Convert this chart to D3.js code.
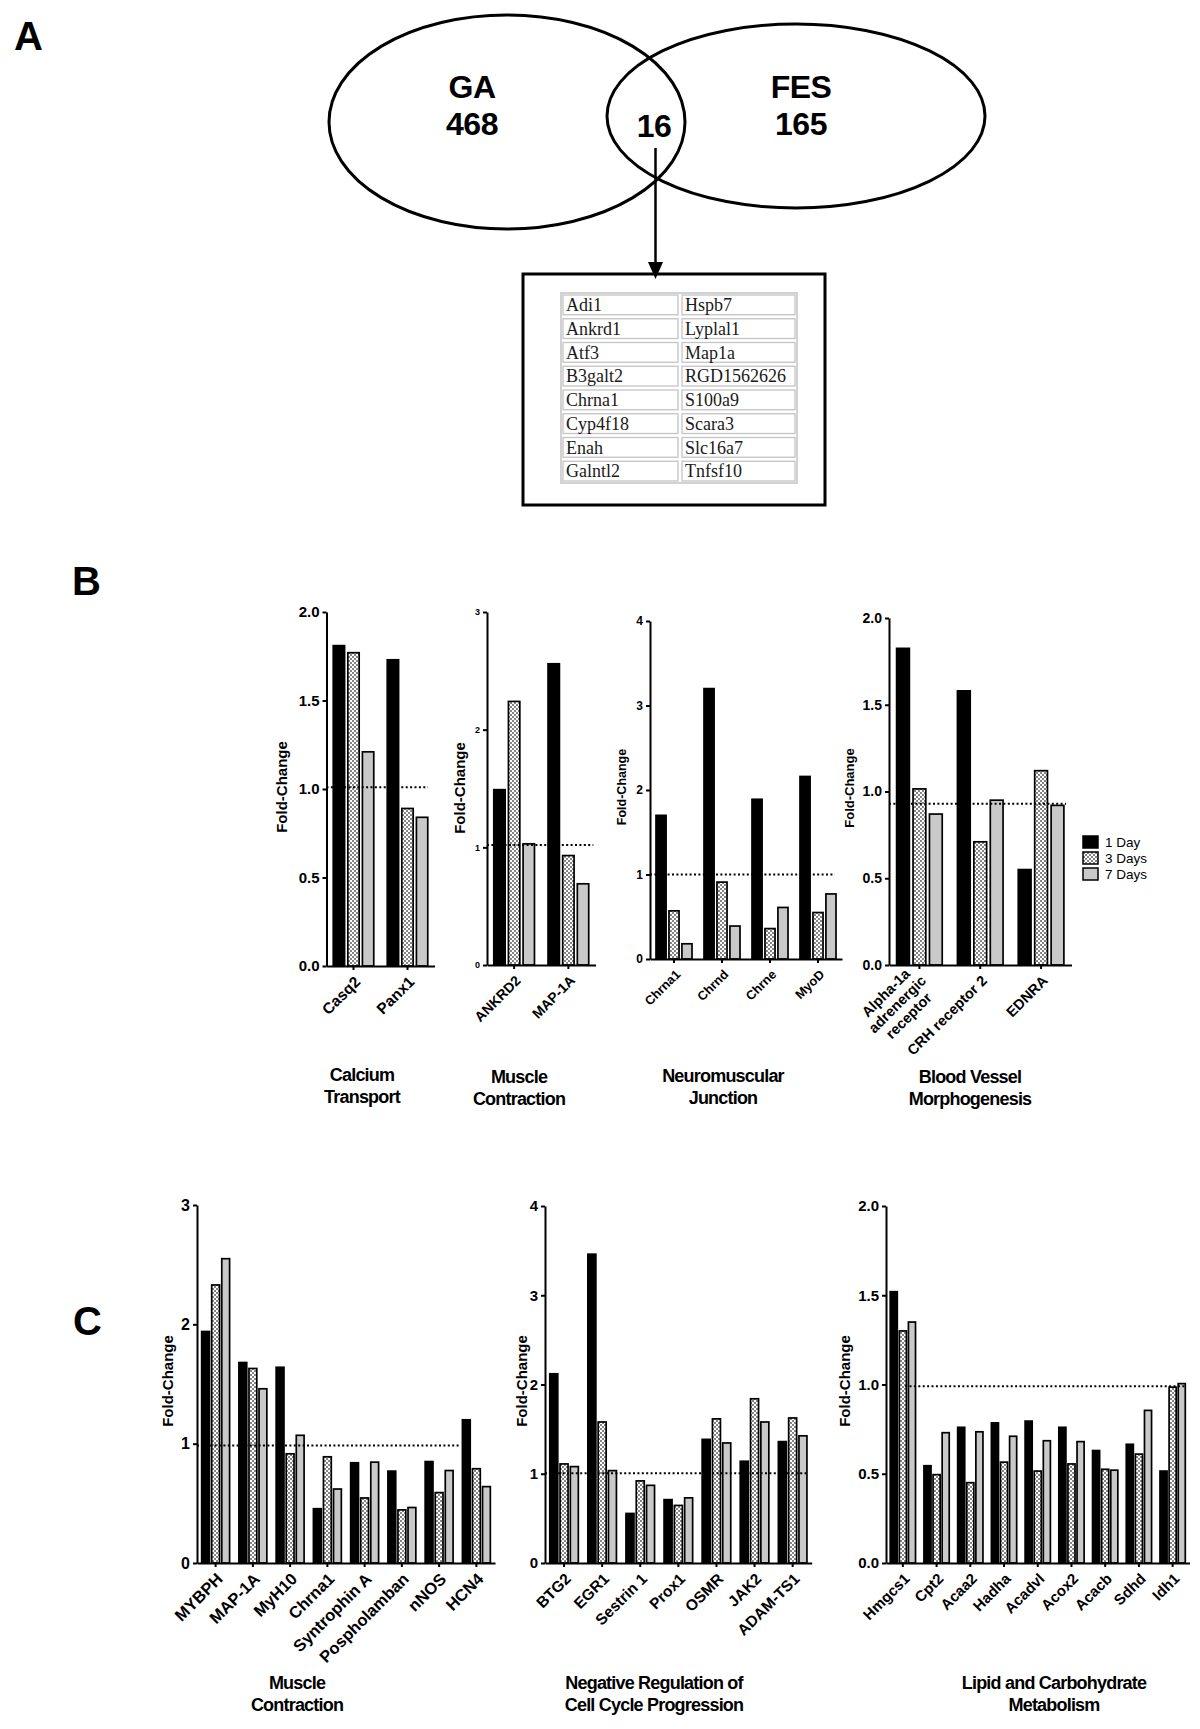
<!DOCTYPE html>
<html>
<head>
<meta charset="utf-8">
<title>Shared genes and fold-change bars</title>
<script src="https://d3js.org/d3.v7.min.js"></script>
<style>
  body { margin: 0; background: #fff; }
  text { font-family: "Liberation Sans", Arial, sans-serif; }
</style>
</head>
<body>
<script>
// ---- data ----
var vennNames = ["GA", "FES"];
var vennOnly = [468, 165];
var vennShared = 16;
var sharedLeft = ["Adi1", "Ankrd1", "Atf3", "B3galt2", "Chrna1", "Cyp4f18", "Enah", "Galntl2"];
var sharedRight = ["Hspb7", "Lyplal1", "Map1a", "RGD1562626", "S100a9", "Scara3", "Slc16a7", "Tnfsf10"];

var seriesNames = ["1 Day", "3 Days", "7 Days"];

// B: calcium transport
var calciumGenes = ["Casq2", "Panx1"];
var calciumDay1 = [1.81, 1.73];
var calciumDay3 = [1.77, 0.89];
var calciumDay7 = [1.21, 0.84];
// B: muscle contraction
var contrBGenes = ["ANKRD2", "MAP-1A"];
var contrBDay1 = [1.49, 2.56];
var contrBDay3 = [2.24, 0.93];
var contrBDay7 = [1.03, 0.69];
// B: neuromuscular junction
var nmjGenes = ["Chrna1", "Chrnd", "Chrne", "MyoD"];
var nmjDay1 = [1.70, 3.20, 1.89, 2.16];
var nmjDay3 = [0.57, 0.91, 0.36, 0.55];
var nmjDay7 = [0.18, 0.39, 0.61, 0.77];
// B: blood vessel morphogenesis
var vesselGenes = ["Alpha-1a\nadrenergic\nreceptor", "CRH receptor 2", "EDNRA"];
var vesselDay1 = [1.825, 1.58, 0.55];
var vesselDay3 = [1.015, 0.71, 1.12];
var vesselDay7 = [0.87, 0.95, 0.92];
// C: muscle contraction
var contrCGenes = ["MYBPH", "MAP-1A", "MyH10", "Chrna1", "Syntrophin A", "Pospholamban", "nNOS", "HCN4"];
var contrCDay1 = [1.94, 1.68, 1.64, 0.455, 0.84, 0.77, 0.85, 1.20];
var contrCDay3 = [2.33, 1.63, 0.915, 0.89, 0.545, 0.445, 0.59, 0.79];
var contrCDay7 = [2.55, 1.46, 1.07, 0.62, 0.845, 0.465, 0.775, 0.64];
// C: negative regulation of cell cycle progression
var cycleGenes = ["BTG2", "EGR1", "Sestrin 1", "Prox1", "OSMR", "JAK2", "ADAM-TS1"];
var cycleDay1 = [2.12, 3.46, 0.555, 0.71, 1.385, 1.14, 1.36];
var cycleDay3 = [1.11, 1.58, 0.92, 0.645, 1.615, 1.84, 1.625];
var cycleDay7 = [1.08, 1.035, 0.87, 0.73, 1.345, 1.58, 1.425];
// C: lipid and carbohydrate metabolism
var lipidGenes = ["Hmgcs1", "Cpt2", "Acaa2", "Hadha", "Acadvl", "Acox2", "Acacb", "Sdhd", "Idh1"];
var lipidDay1 = [1.52, 0.545, 0.76, 0.785, 0.795, 0.76, 0.63, 0.665, 0.515];
var lipidDay3 = [1.30, 0.495, 0.45, 0.565, 0.515, 0.555, 0.525, 0.61, 0.985];
var lipidDay7 = [1.35, 0.73, 0.735, 0.71, 0.685, 0.68, 0.52, 0.855, 1.005];

var ticks2 = [0, 0.5, 1, 1.5, 2];
var ticks3 = [0, 1, 2, 3];
var ticks4 = [0, 1, 2, 3, 4];

// ---- layout ----
var charts = [
  {genes: calciumGenes, vals: [calciumDay1, calciumDay3, calciumDay7], max: 2, ticks: ticks2, fmt: "0.0", ref: 1.01,
   title: ["Calcium", "Transport"], x0: 326.5, w: 108, top: 612, bot: 966, tickFont: 15, catFont: 15.5,
   ylabX: 282, ylabY: 787, ylabFont: 15, refSpan: [0, 0.94], titleX: 362, titleY: 1081},
  {genes: contrBGenes, vals: [contrBDay1, contrBDay3, contrBDay7], max: 3, ticks: ticks3, fmt: "0", ref: 1.02,
   title: ["Muscle", "Contraction"], x0: 487, w: 108.5, top: 612, bot: 965, tickFont: 9, catFont: 14,
   ylabX: 460, ylabY: 788, ylabFont: 15, refSpan: [0, 0.98], titleX: 519, titleY: 1083},
  {genes: nmjGenes, vals: [nmjDay1, nmjDay3, nmjDay7], max: 4, ticks: ticks4, fmt: "0", ref: 1.0,
   title: ["Neuromuscular", "Junction"], x0: 650, w: 192, top: 621, bot: 959, tickFont: 12, catFont: 12.8,
   ylabX: 622, ylabY: 787, ylabFont: 12.5, refSpan: [0, 0.963], titleX: 723, titleY: 1082},
  {genes: vesselGenes, vals: [vesselDay1, vesselDay3, vesselDay7], max: 2, ticks: ticks2, fmt: "0.0", ref: 0.93,
   title: ["Blood Vessel", "Morphogenesis"], x0: 889, w: 182.5, top: 618, bot: 965, tickFont: 14, catFont: 14.5,
   ylabX: 849, ylabY: 788, ylabFont: 13, refSpan: [0, 0.97], titleX: 970, titleY: 1083},
  {genes: contrCGenes, vals: [contrCDay1, contrCDay3, contrCDay7], max: 3, ticks: ticks3, fmt: "0", ref: 0.985,
   title: ["Muscle", "Contraction"], x0: 197, w: 298, top: 1205, bot: 1563, tickFont: 16, catFont: 16.5,
   ylabX: 168, ylabY: 1381, ylabFont: 15, refSpan: [0, 0.883], titleX: 297, titleY: 1689},
  {genes: cycleGenes, vals: [cycleDay1, cycleDay3, cycleDay7], max: 4, ticks: ticks4, fmt: "0", ref: 1.005,
   title: ["Negative Regulation of", "Cell Cycle Progression"], x0: 545, w: 266.7, top: 1206, bot: 1563, tickFont: 15, catFont: 15.5,
   ylabX: 522, ylabY: 1381, ylabFont: 15, refSpan: [0, 0.98], titleX: 654, titleY: 1689},
  {genes: lipidGenes, vals: [lipidDay1, lipidDay3, lipidDay7], max: 2, ticks: ticks2, fmt: "0.0", ref: 0.99,
   title: ["Lipid and Carbohydrate", "Metabolism"], x0: 886, w: 303.5, top: 1206, bot: 1563, tickFont: 15, catFont: 15,
   ylabX: 845, ylabY: 1381, ylabFont: 15, refSpan: [0.063, 0.99], titleX: 1054, titleY: 1689}
];

var svg = d3.select("body").append("svg")
    .attr("width", 1200)
    .attr("height", 1729);

var defs = svg.append("defs");
var pat = defs.append("pattern").attr("id", "checker")
    .attr("width", 4).attr("height", 4).attr("patternUnits", "userSpaceOnUse");
pat.append("rect").attr("width", 4).attr("height", 4).attr("fill", "#fff");
pat.append("rect").attr("width", 2).attr("height", 2).attr("fill", "#858585");
pat.append("rect").attr("x", 2).attr("y", 2).attr("width", 2).attr("height", 2).attr("fill", "#858585");

var fills = ["#000", "url(#checker)", "#c9c9c9"];

// panel letters
[["A", 14, 50], ["B", 72, 595], ["C", 73, 1335]].forEach(function (p) {
    svg.append("text").attr("x", p[1]).attr("y", p[2])
        .attr("font-size", 40).attr("font-weight", "bold").text(p[0]);
});

// ---- panel A: venn + table ----
var ellipses = [{cx: 507, cy: 122, rx: 178, ry: 107}, {cx: 796, cy: 116, rx: 189, ry: 92}];
svg.selectAll(".venn").data(ellipses).enter().append("ellipse")
    .attr("cx", function (d) { return d.cx; })
    .attr("cy", function (d) { return d.cy; })
    .attr("rx", function (d) { return d.rx; })
    .attr("ry", function (d) { return d.ry; })
    .attr("fill", "none").attr("stroke", "#000").attr("stroke-width", 3);

var vennTextPos = [[472, 98], [801, 98]];
vennNames.forEach(function (n, i) {
    var t = svg.append("text").attr("text-anchor", "middle")
        .attr("font-size", 32).attr("font-weight", "bold").attr("letter-spacing", -0.5);
    t.append("tspan").attr("x", vennTextPos[i][0]).attr("y", vennTextPos[i][1]).text(n);
    t.append("tspan").attr("x", vennTextPos[i][0]).attr("y", vennTextPos[i][1] + 37).text(vennOnly[i]);
});
svg.append("text").attr("x", 654).attr("y", 137).attr("text-anchor", "middle")
    .attr("font-size", 32).attr("font-weight", "bold").attr("letter-spacing", -0.5).text(vennShared);

// arrow
svg.append("line").attr("x1", 655.5).attr("y1", 148).attr("x2", 655.5).attr("y2", 266)
    .attr("stroke", "#000").attr("stroke-width", 2.5);
svg.append("path").attr("d", "M648,262 L663,262 L655.5,279 Z").attr("fill", "#000");

// box
svg.append("rect").attr("x", 523).attr("y", 274).attr("width", 302).attr("height", 231)
    .attr("fill", "none").attr("stroke", "#000").attr("stroke-width", 3);

var tbl = {x: 561, y: 293, colW: [119, 117], rowH: 23.75};
svg.append("rect").attr("x", tbl.x).attr("y", tbl.y)
    .attr("width", tbl.colW[0] + tbl.colW[1]).attr("height", tbl.rowH * sharedLeft.length)
    .attr("fill", "none").attr("stroke", "#c4c4c4").attr("stroke-width", 1.5);
[sharedLeft, sharedRight].forEach(function (col, c) {
    var cx = tbl.x + (c === 0 ? 0 : tbl.colW[0]);
    col.forEach(function (g, r) {
        var cy = tbl.y + r * tbl.rowH;
        svg.append("rect").attr("x", cx + 2).attr("y", cy + 2)
            .attr("width", tbl.colW[c] - 4).attr("height", tbl.rowH - 4)
            .attr("fill", "none").attr("stroke", "#c4c4c4").attr("stroke-width", 1.3);
        svg.append("text").attr("x", cx + 5).attr("y", cy + 18)
            .style("font-family", "'Liberation Serif', 'Times New Roman', serif")
            .attr("font-size", 18).attr("fill", "#1a1a1a").text(g);
    });
});

// ---- bar charts ----
function drawChart(c) {
    var g = svg.append("g");
    var x = d3.scaleBand().domain(c.genes).range([c.x0, c.x0 + c.w]);
    var G = x.bandwidth();
    var step = 0.27 * G, p = 1 - 0.21 / 0.27;
    var xi = d3.scaleBand().domain([0, 1, 2])
        .range([G / 2 - 1.5 * step, G / 2 + 1.5 * step])
        .paddingInner(p).paddingOuter(p / 2);
    var y = d3.scaleLinear().domain([0, c.max]).range([c.bot, c.top]);

    var rows = [];
    c.genes.forEach(function (gn, i) {
        c.vals.forEach(function (arr, s) { rows.push({gene: gn, s: s, v: arr[i]}); });
    });
    g.selectAll(".bar").data(rows).enter().append("rect")
        .attr("x", function (d) { return x(d.gene) + xi(d.s); })
        .attr("y", function (d) { return y(d.v); })
        .attr("width", xi.bandwidth())
        .attr("height", function (d) { return y(0) - y(d.v); })
        .attr("fill", function (d) { return fills[d.s]; })
        .attr("stroke", "#000").attr("stroke-width", 1.7);

    // reference line
    g.append("line")
        .attr("x1", c.x0 + c.refSpan[0] * c.w).attr("x2", c.x0 + c.refSpan[1] * c.w)
        .attr("y1", y(c.ref)).attr("y2", y(c.ref))
        .attr("stroke", "#000").attr("stroke-width", 2).attr("stroke-dasharray", "2,2.4");

    var ya = g.append("g").attr("transform", "translate(" + c.x0 + ",0)")
        .call(d3.axisLeft(y).tickValues(c.ticks).tickFormat(d3.format(c.fmt === "0.0" ? ".1f" : "d"))
            .tickSize(4).tickSizeOuter(0));
    ya.selectAll("text").attr("font-size", c.tickFont).attr("font-weight", "bold")
        .attr("fill", "#000").style("font-family", "'Liberation Sans', Arial, sans-serif");
    var xa = g.append("g").attr("transform", "translate(0," + c.bot + ")")
        .call(d3.axisBottom(x).tickSize(4).tickSizeOuter(0).tickFormat(""));
    [ya, xa].forEach(function (a) {
        a.select(".domain").attr("stroke-width", 2);
        a.selectAll(".tick line").attr("stroke-width", 2);
    });

    // rotated category labels
    c.genes.forEach(function (gn) {
        var lines = gn.split("\n");
        var t = g.append("text").attr("text-anchor", "middle")
            .attr("font-size", c.catFont).attr("font-weight", "bold");
        var spans = lines.map(function (l, k) {
            return t.append("tspan").attr("x", 0)
                .attr("y", (k - (lines.length - 1) / 2) * c.catFont * 1.12)
                .attr("dy", "0.35em").text(l);
        });
        var maxW = d3.max(spans, function (s) { return s.node().getComputedTextLength(); });
        var tx = x(gn) + G / 2 + 4, ty = c.bot + 13;
        t.attr("transform", "translate(" + tx + "," + ty + ") rotate(-45) translate(" + (-maxW / 2) + ",0)");
    });

    // y axis label
    g.append("text")
        .attr("transform", "translate(" + c.ylabX + "," + c.ylabY + ") rotate(-90)")
        .attr("text-anchor", "middle").attr("dy", "0.35em")
        .attr("font-size", c.ylabFont).attr("font-weight", "bold").text("Fold-Change");

    // group title
    var tt = g.append("text").attr("text-anchor", "middle")
        .attr("font-size", 18).attr("font-weight", "bold").attr("letter-spacing", -0.8);
    c.title.forEach(function (l, k) {
        tt.append("tspan").attr("x", c.titleX).attr("y", c.titleY + k * 21.5).text(l);
    });
}
charts.forEach(drawChart);

// legend
var lg = svg.append("g").attr("transform", "translate(1083,836)");
seriesNames.forEach(function (s, i) {
    lg.append("rect").attr("x", 0).attr("y", i * 16).attr("width", 15).attr("height", 12)
        .attr("fill", fills[i]).attr("stroke", "#000").attr("stroke-width", 1.5);
    lg.append("text").attr("x", 22).attr("y", i * 16 + 11)
        .attr("font-size", 13.5).text(s);
});
</script>
</body>
</html>
